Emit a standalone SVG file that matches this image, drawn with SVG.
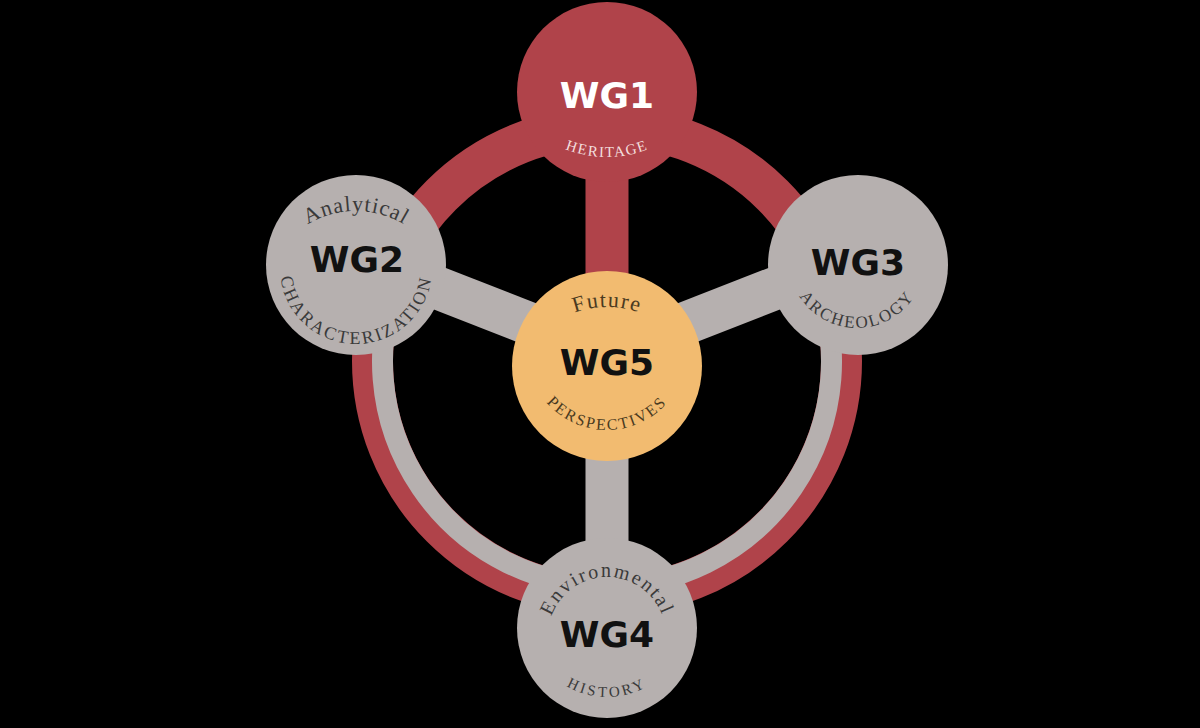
<svg xmlns="http://www.w3.org/2000/svg" width="1200" height="728" viewBox="0 0 1200 728">
  <defs>
    <style>
      .red { fill: #B0434A; }
      .grey { fill: #B6B0AF; }
      .gold { fill: #F2BB70; }
      .ringRed { fill: none; stroke: #B0434A; stroke-width: 41; }
      .ringGrey { fill: none; stroke: #B6B0AF; stroke-width: 21; }
      .spokeRed { stroke: #B0434A; stroke-width: 43; }
      .spokeGrey { stroke: #B6B0AF; stroke-width: 43; }
      .wg { font-family: "DejaVu Sans", "Liberation Sans", sans-serif; font-weight: bold; font-size: 36px; text-anchor: middle; fill: #111; }
      .wgw { fill: #FFFFFF; }
      .arc { font-family: "Liberation Serif", "Times New Roman", serif; text-anchor: middle; fill: #3A3A3A; }
      .arcw { fill: #F3DDDD; }
      .arco { fill: #4A3A20; }
    </style>
    <path id="pHeritage" d="M492,42 A115,115 0 0 0 722,42"/>
    <path id="pAnalytical" d="M264,303 A92,92 0 0 1 448,303"/>
    <path id="pCharacterization" d="M280,268 A76,76 0 0 0 432,268"/>
    <path id="pArcheology" d="M789,260 A68,68 0 0 0 925,260"/>
    <path id="pEnvironmental" d="M548,636 A59,59 0 0 1 666,636"/>
    <path id="pHistory" d="M527,617 A80,80 0 0 0 687,617"/>
    <path id="pFuture" d="M513,401 A94,94 0 0 1 701,401"/>
    <path id="pPerspectives" d="M527,350 A80,80 0 0 0 687,350"/>
  </defs>
  <rect x="0" y="0" width="1200" height="728" fill="#000"/>

  <g id="connectors">
    <circle class="ringRed" cx="607" cy="361" r="234.5"/>
    <path class="ringGrey" d="M398.3,278.7 A224.5,224.5 0 1 0 815.7,278.7"/>
    <line class="spokeRed" x1="607" y1="366" x2="607" y2="93"/>
    <line class="spokeGrey" x1="607" y1="354" x2="356" y2="256"/>
    <line class="spokeGrey" x1="607" y1="354" x2="858" y2="256"/>
    <line class="spokeGrey" x1="607" y1="366" x2="607" y2="628"/>
  </g>

  <g id="wg1">
    <circle class="red" cx="607" cy="92" r="90"/>
    <text class="wg wgw" x="607" y="108">WG1</text>
    <text class="arc arcw" font-size="15" letter-spacing="1.5"><textPath href="#pHeritage" startOffset="50%">HERITAGE</textPath></text>
  </g>

  <g id="wg2">
    <circle class="grey" cx="356" cy="265" r="90"/>
    <text class="wg" x="357" y="272">WG2</text>
    <text class="arc" font-size="18" letter-spacing="2.5"><textPath href="#pCharacterization" startOffset="50%">CHARACTERIZATION</textPath></text>
    <text class="arc" font-size="22" letter-spacing="1"><textPath href="#pAnalytical" startOffset="50%">Analytical</textPath></text>
  </g>

  <g id="wg3">
    <circle class="grey" cx="858" cy="265" r="90"/>
    <text class="wg" x="858" y="275">WG3</text>
    <text class="arc" font-size="17" letter-spacing="2"><textPath href="#pArcheology" startOffset="50%">ARCHEOLOGY</textPath></text>
  </g>

  <g id="wg4">
    <circle class="grey" cx="607" cy="628" r="90"/>
    <text class="wg" x="607" y="647">WG4</text>
    <text class="arc" font-size="20" letter-spacing="2"><textPath href="#pEnvironmental" startOffset="50%">Environmental</textPath></text>
    <text class="arc" font-size="15" letter-spacing="3"><textPath href="#pHistory" startOffset="50%">HISTORY</textPath></text>
  </g>

  <g id="wg5">
    <circle class="gold" cx="607" cy="366" r="95"/>
    <text class="wg" x="607" y="375">WG5</text>
    <text class="arc arco" font-size="22" letter-spacing="1.5"><textPath href="#pFuture" startOffset="50%">Future</textPath></text>
    <text class="arc arco" font-size="16" letter-spacing="2"><textPath href="#pPerspectives" startOffset="50%">PERSPECTIVES</textPath></text>
  </g>
</svg>
